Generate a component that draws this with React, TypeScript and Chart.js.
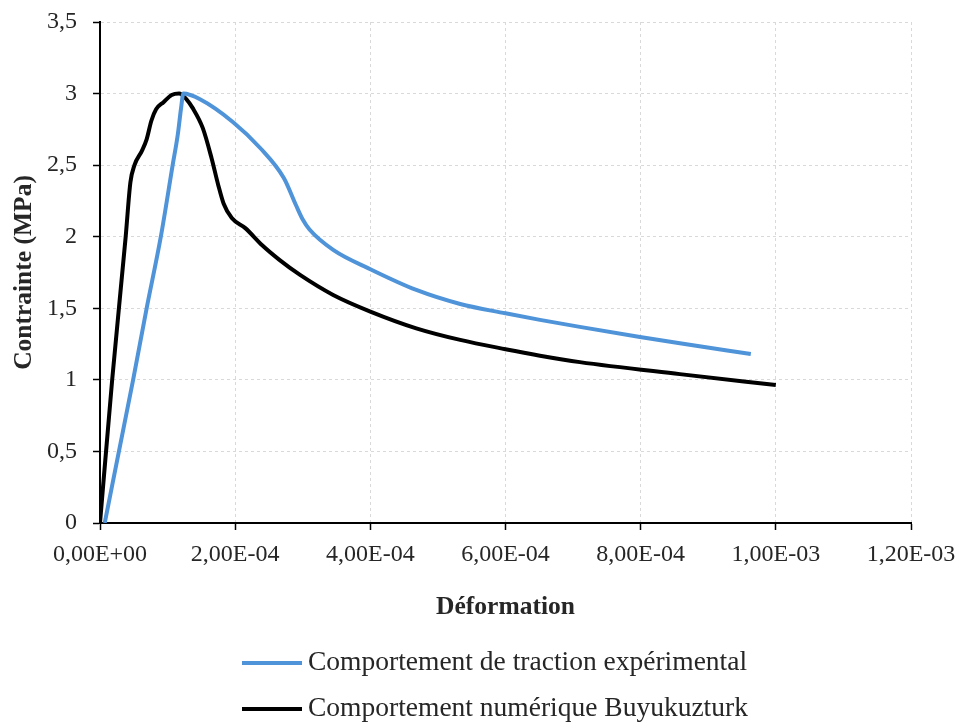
import React, { useEffect, useRef } from "react";
import { Chart, registerables } from "chart.js";

Chart.register(...registerables);

// ---- Data ----
const expStrain = [
  0.000007, 0.000028, 0.000049, 0.000069, 0.00009, 0.0001075, 0.000115, 0.00012, 0.0001233,
  0.000148, 0.000197, 0.000237, 0.000272, 0.00029, 0.0003, 0.00031, 0.000345,
  0.0004, 0.000468, 0.000533, 0.0006, 0.000651, 0.00071, 0.000799, 0.000858, 0.000963,
];
const expStress = [
  0, 0.5, 1.0, 1.5, 2.0, 2.5, 2.71, 2.9, 3.0,
  2.96, 2.8, 2.62, 2.41, 2.22, 2.12, 2.05, 1.908,
  1.773, 1.628, 1.53, 1.465, 1.419, 1.37, 1.3, 1.256, 1.18,
];
const numStrain = [
  0, 0.000018, 0.000038, 0.000045, 0.000051, 0.000062, 0.000069, 0.000076, 0.000083,
  0.000094, 0.000106, 0.000117, 0.000128, 0.000137, 0.000152, 0.000165, 0.000175,
  0.000183, 0.000195, 0.000215, 0.00024, 0.000265, 0.000296, 0.000345, 0.0004,
  0.000468, 0.000533, 0.0006, 0.000651, 0.00071, 0.000858, 0.001,
];
const numStress = [
  0, 1.0, 2.0, 2.38, 2.5, 2.6, 2.68, 2.81, 2.89,
  2.94, 2.99, 3.0, 2.96, 2.9, 2.76, 2.55, 2.36,
  2.23, 2.13, 2.06, 1.94, 1.84, 1.733, 1.593, 1.477,
  1.36, 1.279, 1.214, 1.169, 1.124, 1.04, 0.964,
];
const xTickValues = [0, 0.0002, 0.0004, 0.0006, 0.0008, 0.001, 0.0012];
const yTickValues = [0, 0.5, 1, 1.5, 2, 2.5, 3, 3.5];
const seriesLabels = [
  "Comportement de traction expérimental",
  "Comportement numérique Buyukuzturk",
];
const seriesColors = ["#4F93D9", "#000000"];
const xTitle = "Déformation";
const yTitle = "Contrainte (MPa)";

const FONT = '"Liberation Serif", "Times New Roman", serif';
const TEXT = "#262626";

function fmtX(v: number): string {
  if (Math.abs(v) < 1e-12) return "0,00E+00";
  const [m, e] = v.toExponential(2).split("e");
  const ei = parseInt(e, 10);
  const sign = ei < 0 ? "-" : "+";
  return m.replace(".", ",") + "E" + sign + String(Math.abs(ei)).padStart(2, "0");
}
function fmtY(v: number): string {
  return String(Math.round(v * 10) / 10).replace(".", ",");
}

const stackedLegend = {
  id: "stackedLegend",
  afterDraw(chart: any) {
    const ctx = chart.ctx;
    ctx.save();
    ctx.font = `27.5px ${FONT}`;
    const ds = chart.data.datasets;
    const sample = 60;
    const gap = 6;
    const left = Math.round(chart.chartArea.left + 142);
    const rows = [chart.height - 62, chart.height - 16];
    ds.forEach((d: any, i: number) => {
      ctx.strokeStyle = d.borderColor;
      ctx.lineWidth = 4;
      ctx.beginPath();
      ctx.moveTo(left, rows[i]);
      ctx.lineTo(left + sample, rows[i]);
      ctx.stroke();
      ctx.fillStyle = TEXT;
      ctx.textAlign = "left";
      ctx.textBaseline = "middle";
      ctx.fillText(d.label, left + sample + gap, rows[i]);
    });
    ctx.restore();
  },
};

export default function App() {
  const ref = useRef<HTMLCanvasElement | null>(null);

  useEffect(() => {
    document.body.style.margin = "0";
    const canvas = ref.current;
    if (!canvas) return;
    const toPts = (xs: number[], ys: number[]) => xs.map((x, i) => ({ x, y: ys[i] }));
    const chart = new Chart(canvas, {
      type: "scatter",
      data: {
        datasets: [
          {
            label: seriesLabels[0],
            data: toPts(expStrain, expStress),
            borderColor: seriesColors[0],
            backgroundColor: seriesColors[0],
            borderWidth: 4,
            showLine: true,
            pointRadius: 0,
            cubicInterpolationMode: "monotone",
          },
          {
            label: seriesLabels[1],
            data: toPts(numStrain, numStress),
            borderColor: seriesColors[1],
            backgroundColor: seriesColors[1],
            borderWidth: 4,
            showLine: true,
            pointRadius: 0,
            cubicInterpolationMode: "monotone",
          },
        ],
      },
      options: {
        animation: false,
        responsive: false,
        devicePixelRatio: 1,
        layout: { padding: { left: 0, right: 53, top: 22, bottom: 102 } },
        plugins: {
          legend: { display: false },
          tooltip: { enabled: false },
        },
        scales: {
          x: {
            type: "linear",
            position: "bottom",
            min: 0,
            max: 0.0012,
            afterBuildTicks: (s: any) => {
              s.ticks = xTickValues.map((v) => ({ value: v }));
            },
            afterFit: (s: any) => {
              s.height = 100;
              s.paddingLeft = 0;
              s.paddingRight = 0;
            },
            ticks: {
              callback: (v: any) => fmtX(Number(v)),
              autoSkip: false,
              maxRotation: 0,
              minRotation: 0,
              padding: 10,
              color: TEXT,
              font: { family: FONT, size: 24 },
            },
            grid: {
              color: "#D9D9D9",
              lineWidth: 1,
              tickColor: "#000000",
              tickLength: 7,
              tickWidth: 1.5,
            },
            border: { color: "#000000", width: 2, dash: [3, 3] },
            title: {
              display: true,
              text: xTitle,
              color: TEXT,
              font: { family: FONT, size: 25.5, weight: "bold" },
              padding: { top: 0, bottom: 0 },
            },
          },
          y: {
            type: "linear",
            min: 0,
            max: 3.5,
            afterBuildTicks: (s: any) => {
              s.ticks = yTickValues.map((v) => ({ value: v }));
            },
            afterFit: (s: any) => {
              s.width = 100;
              s.paddingTop = 0;
              s.paddingBottom = 0;
            },
            ticks: {
              callback: (v: any) => fmtY(Number(v)),
              autoSkip: false,
              padding: 16,
              color: TEXT,
              font: { family: FONT, size: 24 },
            },
            grid: {
              color: "#D9D9D9",
              lineWidth: 1,
              tickColor: "#000000",
              tickLength: 7,
              tickWidth: 1.5,
            },
            border: { color: "#000000", width: 2, dash: [3, 3] },
            title: {
              display: true,
              text: yTitle,
              color: TEXT,
              font: { family: FONT, size: 25.5, weight: "bold" },
              padding: { top: 9, bottom: 0 },
            },
          },
        },
      },
      plugins: [stackedLegend],
    } as any);
    return () => chart.destroy();
  }, []);

  return (
    <div style={{ width: 964, height: 725, background: "#fff" }}>
      <canvas ref={ref} width={964} height={725} style={{ display: "block" }} />
    </div>
  );
}
